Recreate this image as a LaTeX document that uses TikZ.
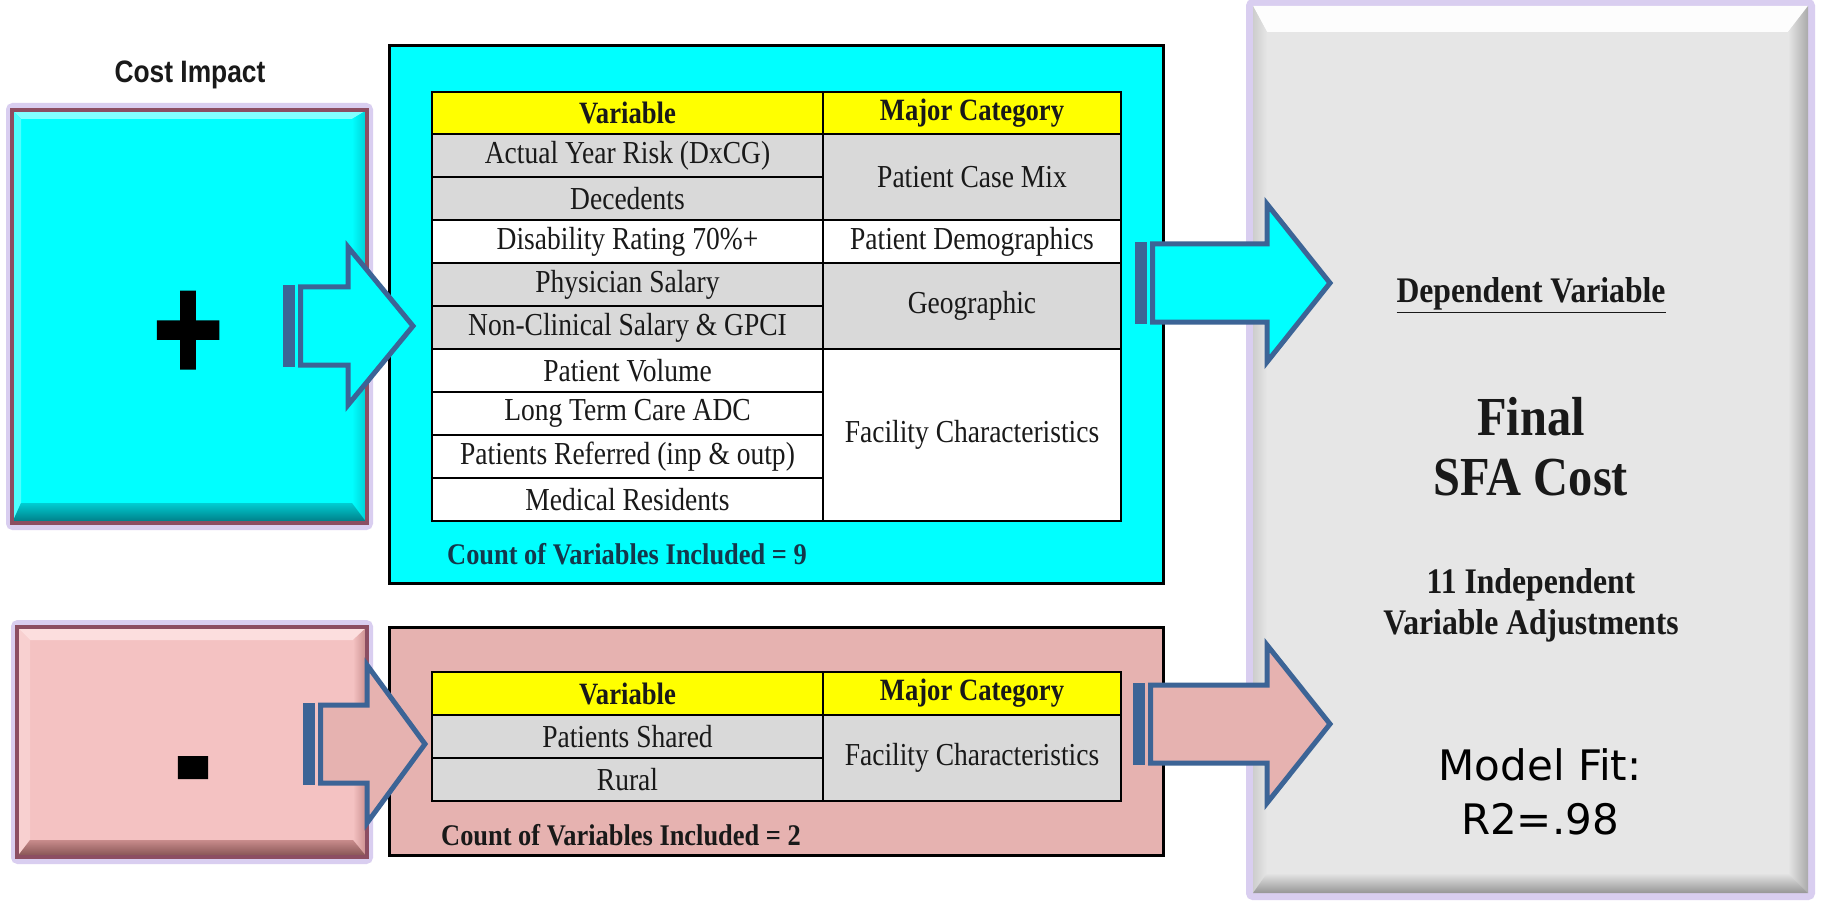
\documentclass[tikz,border=0pt]{standalone}
\usepackage{fontspec}
\usepackage{graphicx}
\newfontfamily\tnr[FakeStretch=0.86]{Liberation Serif}
\newfontfamily\tnrw[FakeStretch=0.88]{Liberation Serif}
\newfontfamily\arn[FakeStretch=0.85]{Liberation Sans}
\newfontfamily\dvs{DejaVu Sans}
\newfontfamily\sgn[FakeBold=2]{Liberation Sans}
\definecolor{cyanF}{RGB}{0,255,255}
\definecolor{cyanT}{RGB}{130,255,255}
\definecolor{cyanR}{RGB}{0,205,210}
\definecolor{cyanB}{RGB}{0,120,130}
\definecolor{pinkL}{RGB}{244,194,194}
\definecolor{pinkT}{RGB}{252,222,222}
\definecolor{pinkR}{RGB}{200,140,140}
\definecolor{pinkB}{RGB}{130,80,80}
\definecolor{pinkF}{RGB}{230,178,176}
\definecolor{grayC}{RGB}{217,217,217}
\definecolor{grayBox}{RGB}{230,230,230}
\definecolor{grayR}{RGB}{170,170,170}
\definecolor{grayBt}{RGB}{150,150,150}
\definecolor{grayL}{RGB}{205,205,205}
\definecolor{yellowH}{RGB}{255,255,0}
\definecolor{arrowS}{RGB}{60,100,150}
\definecolor{mauve}{RGB}{140,78,98}
\definecolor{lav}{RGB}{205,190,235}
\definecolor{txt}{RGB}{25,25,25}
\definecolor{tealtxt}{RGB}{20,55,75}
\newcommand\drawBlockArrow[6]{%
  \fill[arrowS] (#1,#5-41) rectangle (#1+12,#5+41);
  \draw[arrowS, line width=5, fill=#6, line join=miter]
    (#2,#5-39) -- (#3,#5-39) -- (#3,#5-79) -- (#4,#5) -- (#3,#5+79)
    -- (#3,#5+39) -- (#2,#5+39) -- cycle;
}
\tikzset{
  cell/.style={draw=black, line width=2, inner sep=0, anchor=center,
    font=\tnr\fontsize{32}{34}\selectfont, text=txt},
  hcell/.style={cell, fill=yellowH, font=\tnr\bfseries\fontsize{31}{34}\selectfont},
  vcell/.style={cell, minimum width=391, minimum height=43},
  ccell/.style={cell, minimum width=298},
  counttext/.style={anchor=west, inner sep=0, font=\tnrw\bfseries\fontsize{30}{34}\selectfont},
  glow/.style={draw=lav, line width=8, opacity=0.75, rounded corners=3},
  boxedge/.style={draw=mauve, line width=4},
  frame/.style={draw=black, line width=3},
}
\begin{document}
\begin{tikzpicture}[x=1pt,y=-1pt]
\useasboundingbox (0,0) rectangle (1831,901);
\fill[white] (0,0) rectangle (1831,901);

% ---------- right gray box ----------
\draw[glow] (1250,3) rectangle (1811,896);
\fill[grayBox] (1253,6) rectangle (1808,893);
\fill[white!92!grayBox] (1253,6) -- (1808,6) -- (1788,32) -- (1267,32) -- cycle;
\shade[left color=grayL, right color=grayBox] (1253,6) -- (1267,32) -- (1267,873) -- (1253,893) -- cycle;
\shade[left color=grayBox, right color=grayR] (1808,6) -- (1808,893) -- (1788,873) -- (1788,32) -- cycle;
\shade[top color=grayBox, bottom color=grayBt] (1253,893) -- (1808,893) -- (1788,873) -- (1267,873) -- cycle;

\node[font=\tnrw\bfseries\fontsize{36}{40}\selectfont, text=txt] (dep) at (1531,295) {\underline{Dependent Variable}};
\node[font=\tnrw\bfseries\fontsize{55}{60}\selectfont, text=txt, align=center] (final) at (1531,447) {Final\\SFA Cost};
\node[font=\tnrw\bfseries\fontsize{36}{41}\selectfont, text=txt, align=center] (indep) at (1531,605) {11 Independent\\Variable Adjustments};
\node[font=\dvs\fontsize{42}{54}\selectfont, text=black, align=center] (fit) at (1540,792) {Model Fit:\\R2=.98};

% ---------- left cyan box ----------
\node[font=\arn\bfseries\fontsize{31}{34}\selectfont, text=txt] (costimp) at (190,75) {Cost Impact};
\draw[glow] (10,107) rectangle (369,526);
\fill[cyanF] (12,110) rectangle (367,523);
\fill[cyanT] (12,110) -- (367,110) -- (352,119) -- (21,119) -- cycle;
\fill[cyanT!60!cyanF] (12,110) -- (21,119) -- (21,503) -- (12,523) -- cycle;
\shade[left color=cyanF, right color=cyanR] (367,110) -- (367,523) -- (352,503) -- (352,119) -- cycle;
\shade[top color=cyanR, bottom color=cyanB] (12,523) -- (367,523) -- (352,503) -- (21,503) -- cycle;
\draw[boxedge] (12,110) rectangle (367,523);
\node[font=\sgn\bfseries\fontsize{120}{120}\selectfont, inner sep=0] (plus) at (188,336) {\scalebox{1}[1.25]{+}};

% ---------- left pink box ----------
\draw[glow] (15,624) rectangle (369,860);
\fill[pinkL] (17,627) rectangle (367,857);
\fill[pinkT] (17,627) -- (367,627) -- (353,640) -- (30,640) -- cycle;
\fill[pinkT!50!pinkL] (17,627) -- (30,640) -- (30,840) -- (17,857) -- cycle;
\shade[left color=pinkL, right color=pinkR] (367,627) -- (367,857) -- (353,840) -- (353,640) -- cycle;
\shade[top color=pinkR, bottom color=pinkB] (17,857) -- (367,857) -- (353,840) -- (30,840) -- cycle;
\draw[boxedge] (17,627) rectangle (367,857);
\node[font=\sgn\bfseries\fontsize{110}{110}\selectfont, inner sep=0] (minus) at (193,784) {\scalebox{1}[1.5]{-}};

% ---------- top frame and table ----------
\draw[frame, fill=cyanF] (389,46) rectangle (1163,583);
\node[hcell, minimum width=391, minimum height=42] (h1) at (627.5,113) {Variable};
\node[hcell, minimum width=298, minimum height=42] (h2) at (972,113) {Major Category};
\node[vcell, fill=grayC] (v1) at (627.5,155.5) {Actual Year Risk (DxCG)};
\node[vcell, fill=grayC] (v2) at (627.5,198.5) {Decedents};
\node[vcell, fill=white] (v3) at (627.5,241.5) {Disability Rating 70\%+};
\node[vcell, fill=grayC] (v4) at (627.5,284.5) {Physician Salary};
\node[vcell, fill=grayC] (v5) at (627.5,327.5) {Non-Clinical Salary \& GPCI};
\node[vcell, fill=white] (v6) at (627.5,370.5) {Patient Volume};
\node[vcell, fill=white] (v7) at (627.5,413.5) {Long Term Care ADC};
\node[vcell, fill=white] (v8) at (627.5,456.5) {Patients Referred (inp \& outp)};
\node[vcell, fill=white] (v9) at (627.5,499.5) {Medical Residents};
\node[ccell, fill=grayC, minimum height=86] (c1) at (972,177) {Patient Case Mix};
\node[ccell, fill=white, minimum height=43] (c2) at (972,241.5) {Patient Demographics};
\node[ccell, fill=grayC, minimum height=86] (c3) at (972,306) {Geographic};
\node[ccell, fill=white, minimum height=172] (c4) at (972,435) {Facility Characteristics};
\node[counttext, text=tealtxt] (count1) at (447,554) {Count of Variables Included = 9};

% ---------- bottom frame and table ----------
\draw[frame, fill=pinkF] (389,627) rectangle (1163,855);
\node[hcell, minimum width=391, minimum height=43] (bh1) at (627.5,693.5) {Variable};
\node[hcell, minimum width=298, minimum height=43] (bh2) at (972,693.5) {Major Category};
\node[vcell, fill=grayC] (bv1) at (627.5,736.5) {Patients Shared};
\node[vcell, fill=grayC] (bv2) at (627.5,779.5) {Rural};
\node[ccell, fill=grayC, minimum height=86] (bc1) at (972,758) {Facility Characteristics};
\node[counttext, text=txt] (count2) at (441,835) {Count of Variables Included = 2};

% ---------- block arrows ----------
\drawBlockArrow{283}{300.5}{348}{413}{326}{cyanF}
\drawBlockArrow{303}{320.5}{367}{425}{744}{pinkF}
\drawBlockArrow{1135}{1152.5}{1267}{1330}{283}{cyanF}
\drawBlockArrow{1133}{1150.5}{1267}{1330}{724}{pinkF}
\end{tikzpicture}
\end{document}
